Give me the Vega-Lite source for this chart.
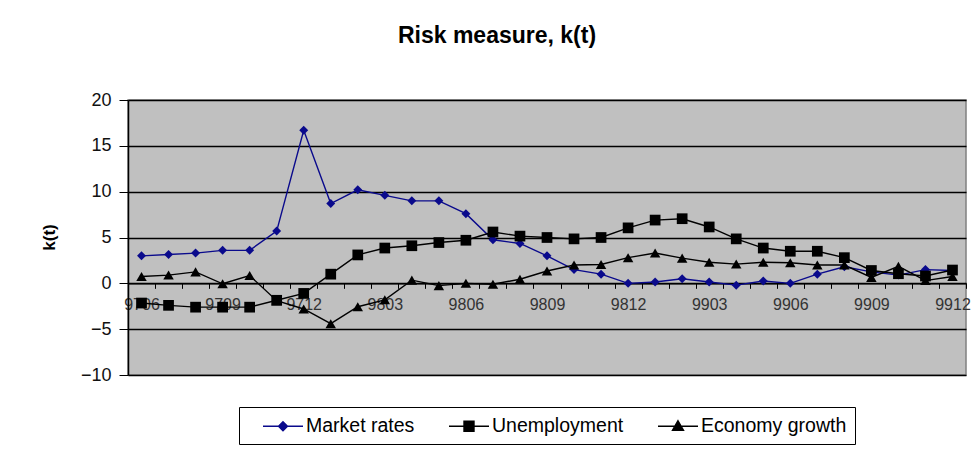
{
  "$schema": "https://vega.github.io/schema/vega-lite/v6.json",
  "autosize": "none",
  "width": 838,
  "height": 275,
  "padding": {"left": 128, "top": 100, "right": 9, "bottom": 74},
  "background": "white",
  "title": {"text": "Risk measure, k(t)", "font": "Liberation Sans", "fontSize": 23, "fontWeight": "bold", "color": "#000", "anchor": "middle", "dx": -50, "offset": 43},
  "config": {
    "view": {"fill": "#c0c0c0", "stroke": "#808080", "strokeWidth": 1.5},
    "axis": {"labelFont": "Liberation Sans", "titleFont": "Liberation Sans"},
    "legend": {"labelFont": "Liberation Sans"}
  },
  "data": {"values": [
    {"m": "9706", "Market rates": 3.0, "Unemployment": -2.15, "Economy growth": 0.75},
    {"m": "9707", "Market rates": 3.15, "Unemployment": -2.4, "Economy growth": 0.9},
    {"m": "9708", "Market rates": 3.3, "Unemployment": -2.6, "Economy growth": 1.25},
    {"m": "9709", "Market rates": 3.6, "Unemployment": -2.6, "Economy growth": -0.05},
    {"m": "9710", "Market rates": 3.6, "Unemployment": -2.6, "Economy growth": 0.85},
    {"m": "9711", "Market rates": 5.7, "Unemployment": -1.85, "Economy growth": -1.9},
    {"m": "9712", "Market rates": 16.7, "Unemployment": -1.1, "Economy growth": -2.8},
    {"m": "9801", "Market rates": 8.7, "Unemployment": 1.0, "Economy growth": -4.4},
    {"m": "9802", "Market rates": 10.2, "Unemployment": 3.1, "Economy growth": -2.55},
    {"m": "9803", "Market rates": 9.6, "Unemployment": 3.85, "Economy growth": -1.8},
    {"m": "9804", "Market rates": 9.0, "Unemployment": 4.1, "Economy growth": 0.35},
    {"m": "9805", "Market rates": 9.0, "Unemployment": 4.45, "Economy growth": -0.25},
    {"m": "9806", "Market rates": 7.6, "Unemployment": 4.7, "Economy growth": 0.0},
    {"m": "9807", "Market rates": 4.75, "Unemployment": 5.6, "Economy growth": -0.1},
    {"m": "9808", "Market rates": 4.35, "Unemployment": 5.15, "Economy growth": 0.45},
    {"m": "9809", "Market rates": 3.0, "Unemployment": 5.0, "Economy growth": 1.35},
    {"m": "9810", "Market rates": 1.5, "Unemployment": 4.85, "Economy growth": 2.0},
    {"m": "9811", "Market rates": 1.0, "Unemployment": 5.0, "Economy growth": 2.05},
    {"m": "9812", "Market rates": 0.0, "Unemployment": 6.05, "Economy growth": 2.8},
    {"m": "9901", "Market rates": 0.15, "Unemployment": 6.9, "Economy growth": 3.3},
    {"m": "9902", "Market rates": 0.5, "Unemployment": 7.05, "Economy growth": 2.75},
    {"m": "9903", "Market rates": 0.15, "Unemployment": 6.15, "Economy growth": 2.3},
    {"m": "9904", "Market rates": -0.2, "Unemployment": 4.85, "Economy growth": 2.1},
    {"m": "9905", "Market rates": 0.25, "Unemployment": 3.85, "Economy growth": 2.3},
    {"m": "9906", "Market rates": 0.0, "Unemployment": 3.5, "Economy growth": 2.25},
    {"m": "9907", "Market rates": 1.0, "Unemployment": 3.5, "Economy growth": 2.0},
    {"m": "9908", "Market rates": 1.8, "Unemployment": 2.8, "Economy growth": 2.0},
    {"m": "9909", "Market rates": 1.25, "Unemployment": 1.4, "Economy growth": 0.65},
    {"m": "9910", "Market rates": 0.9, "Unemployment": 1.05, "Economy growth": 1.85},
    {"m": "9911", "Market rates": 1.5, "Unemployment": 0.8, "Economy growth": 0.3},
    {"m": "9912", "Market rates": 1.4, "Unemployment": 1.45, "Economy growth": 0.75}
  ]},
  "transform": [
    {"fold": ["Market rates", "Unemployment", "Economy growth"], "as": ["series", "k"]}
  ],
  "encoding": {
    "x": {
      "field": "m", "type": "ordinal", "sort": "ascending",
      "scale": {"type": "band", "paddingInner": 0, "paddingOuter": 0},
      "axis": {
        "title": null, "offset": -91.67, "labelAngle": 0, "tickBand": "extent",
        "labelExpr": "(toNumber(datum.value) % 100) % 3 == 0 ? datum.value : ''",
        "labelOverlap": false, "labelFontSize": 16, "labelColor": "#333", "labelPadding": 8,
        "domainColor": "#000", "domainWidth": 1.5, "tickColor": "#000", "tickWidth": 1, "tickSize": 5, "grid": false
      }
    },
    "y": {
      "field": "k", "type": "quantitative",
      "scale": {"domain": [-10, 20], "nice": false, "zero": false},
      "axis": {
        "title": "k(t)", "titleFontSize": 17, "titleFontWeight": "bold", "titleColor": "#000",
        "titleX": -79, "titleY": 137, "titleAngle": -90, "titleAlign": "center", "titleBaseline": "middle",
        "values": [-10, -5, 0, 5, 10, 15, 20], "labelFontSize": 18, "labelColor": "#111", "labelPadding": 8,
        "grid": true, "gridColor": "#000", "gridWidth": 1.5, "gridOpacity": 1,
        "domainColor": "#000", "domainWidth": 1.5, "tickColor": "#000", "tickSize": 9, "tickWidth": 1
      }
    }
  },
  "layer": [
    {
      "mark": {"type": "line", "strokeWidth": 1.4},
      "encoding": {
        "color": {
          "field": "series", "type": "nominal",
          "scale": {"domain": ["Market rates", "Unemployment", "Economy growth"], "range": ["#0a0a8c", "#000000", "#000000"]},
          "legend": {
            "orient": "none", "legendX": 111, "legendY": 307, "direction": "horizontal", "title": null,
            "fillColor": "white", "strokeColor": "#000", "padding": 8,
            "labelFontSize": 19.5, "labelColor": "#000", "symbolSize": 400, "labelOffset": 37, "columnPadding": 18,
            "encode": {
              "symbols": {"update": {
                "shape": {"signal": "datum.value === 'Market rates' ? 'M0.5,0H4.5M2.05,0L2.5,-0.45L2.95,0L2.5,0.45Z' : datum.value === 'Unemployment' ? 'M0.5,0H4.5M2,-0.5H3V0.5H2Z' : 'M0.5,0H4.5M2.5,-0.55L3.05,0.4H1.95Z'"},
                "fill": {"signal": "datum.value === 'Market rates' ? '#0a0a8c' : '#000000'"},
                "stroke": {"signal": "datum.value === 'Market rates' ? '#0a0a8c' : '#000000'"},
                "strokeWidth": {"value": 1.4},
                "size": {"value": 400},
                "opacity": {"value": 1}
              }}
            }
          }
        }
      }
    },
    {
      "transform": [{"filter": {"field": "series", "equal": "Market rates"}}],
      "mark": {"type": "point", "filled": true, "opacity": 1, "shape": "diamond", "size": 80, "color": "#0a0a8c"}
    },
    {
      "transform": [{"filter": {"field": "series", "equal": "Unemployment"}}],
      "mark": {"type": "point", "filled": true, "opacity": 1, "shape": "square", "size": 115, "color": "#000000"}
    },
    {
      "transform": [{"filter": {"field": "series", "equal": "Economy growth"}}],
      "mark": {"type": "point", "filled": true, "opacity": 1, "shape": "triangle-up", "size": 110, "color": "#000000"}
    }
  ]
}
